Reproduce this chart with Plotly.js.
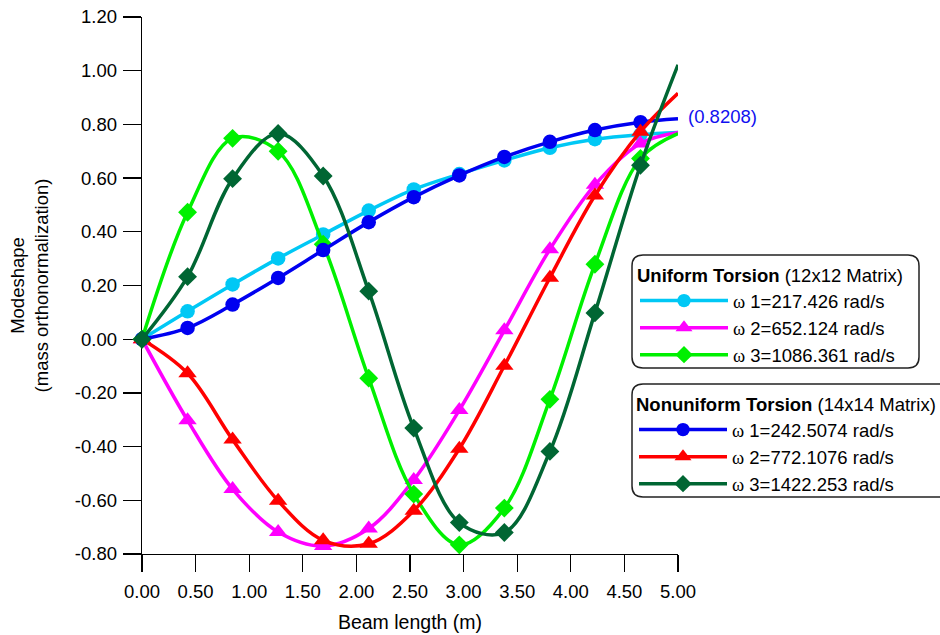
<!DOCTYPE html>
<html>
<head>
<meta charset="utf-8">
<script src="https://cdn.plot.ly/plotly-3.0.1.min.js"></script>
<style>html,body{margin:0;padding:0;background:#fff;}</style>
</head>
<body>
<div id="chart" style="width:940px;height:635px;"></div>
<script>
// ---- data ----
const beamX = [0, 0.425, 0.845, 1.27, 1.69, 2.115, 2.535, 2.96, 3.38, 3.805, 4.225, 4.65, 5.0];

const uniW1 = [0, 0.104, 0.204, 0.301, 0.390, 0.479, 0.558, 0.615, 0.666, 0.713, 0.745, 0.762, 0.770];
const uniW2 = [0, -0.302, -0.558, -0.718, -0.770, -0.705, -0.524, -0.264, 0.033, 0.335, 0.575, 0.729, 0.770];
const uniW3 = [0, 0.473, 0.748, 0.700, 0.354, -0.145, -0.577, -0.766, -0.629, -0.224, 0.279, 0.673, 0.766];

const nonW1 = [0, 0.042, 0.129, 0.228, 0.332, 0.436, 0.529, 0.610, 0.679, 0.735, 0.779, 0.808, 0.8208];
const nonW2 = [0, -0.127, -0.374, -0.602, -0.749, -0.762, -0.639, -0.408, -0.099, 0.229, 0.535, 0.773, 0.916];
const nonW3 = [0, 0.233, 0.598, 0.766, 0.608, 0.179, -0.331, -0.683, -0.720, -0.418, 0.098, 0.648, 1.022];

const uniNames = ['1=217.426 rad/s', '2=652.124 rad/s', '3=1086.361 rad/s'];
const nonNames = ['1=242.5074 rad/s', '2=772.1076 rad/s', '3=1422.253 rad/s'];
const legendTitles = ['<b>Uniform Torsion</b> (12x12 Matrix)', '<b>Nonuniform Torsion</b> (14x14 Matrix)'];
const endLabel = '(0.8208)';

const xTickVals = [0, 0.5, 1, 1.5, 2, 2.5, 3, 3.5, 4, 4.5, 5];
const xTickText = ['0.00','0.50','1.00','1.50','2.00','2.50','3.00','3.50','4.00','4.50','5.00'];
const yTickVals = [-0.8, -0.6, -0.4, -0.2, 0, 0.2, 0.4, 0.6, 0.8, 1.0, 1.2];
const yTickText = ['-0.80','-0.60','-0.40','-0.20','0.00','0.20','0.40','0.60','0.80','1.00','1.20'];

// ---- styling ----
const FONT = 'Liberation Sans, Arial, Helvetica, sans-serif';
const FS = 18.5;
const omega = '<span style="font-family:\'Liberation Serif\', \'Times New Roman\', serif">ω</span> ';

function markerSizes(n, s) { const a = []; for (let i = 0; i < n; i++) a.push(i === n - 1 ? 0 : s); return a; }

function mk(y, name, color, symbol, size, legend) {
  return {
    x: beamX, y: y, name: omega + name, legend: legend,
    type: 'scatter', mode: 'lines+markers', cliponaxis: false,
    line: {color: color, width: 3.5, shape: 'spline', smoothing: 1},
    marker: {color: color, symbol: symbol, size: markerSizes(beamX.length, size),
             opacity: 1, line: {width: 0, color: color}}
  };
}

const traces = [
  mk(uniW1, uniNames[0], '#00C8F5', 'circle', 14.5, 'legend'),
  mk(uniW2, uniNames[1], '#FF00FF', 'triangle-up', 16, 'legend'),
  mk(uniW3, uniNames[2], '#00F000', 'diamond', 14.5, 'legend'),
  mk(nonW1, nonNames[0], '#0000F0', 'circle', 14.5, 'legend2'),
  mk(nonW2, nonNames[1], '#FF0000', 'triangle-up', 16, 'legend2'),
  mk(nonW3, nonNames[2], '#006633', 'diamond', 14.5, 'legend2')
];

// plot area in pixels
const L = 142, R = 678, T = 17, B = 554;
function px(xp) { return (xp - L) / (R - L); }
function py(yp) { return (B - yp) / (B - T); }
function roundRect(x0, y0, x1, y1, r) {
  const rx = r / (R - L), ry = r / (B - T);
  const a = px(x0), b = px(x1), top = py(y0), bot = py(y1);
  return 'M' + (a + rx) + ',' + top +
    ' L' + (b - rx) + ',' + top +
    ' Q' + b + ',' + top + ' ' + b + ',' + (top - ry) +
    ' L' + b + ',' + (bot + ry) +
    ' Q' + b + ',' + bot + ' ' + (b - rx) + ',' + bot +
    ' L' + (a + rx) + ',' + bot +
    ' Q' + a + ',' + bot + ' ' + a + ',' + (bot + ry) +
    ' L' + a + ',' + (top - ry) +
    ' Q' + a + ',' + top + ' ' + (a + rx) + ',' + top + ' Z';
}

const legendBase = {
  xanchor: 'left', yanchor: 'top',
  bgcolor: 'rgba(0,0,0,0)', borderwidth: 0,
  font: {family: FONT, size: FS, color: '#000'},
  itemwidth: 88, tracegroupgap: 0, itemclick: false
};

const layout = {
  width: 940, height: 635,
  margin: {l: L, r: 940 - R, t: T, b: 635 - B, pad: 0, autoexpand: false},
  paper_bgcolor: '#fff', plot_bgcolor: '#fff',
  font: {family: FONT, size: FS, color: '#000'},
  showlegend: true,
  xaxis: {
    range: [0, 5], tickvals: xTickVals, ticktext: xTickText, automargin: false,
    showgrid: false, zeroline: false, showline: true, linecolor: '#000', linewidth: 1.3,
    ticks: 'outside', ticklen: 17, tickwidth: 1.3, tickcolor: '#000', ticklabelstandoff: 3,
    tickfont: {family: FONT, size: FS, color: '#000'},
    title: {text: 'Beam length (m)', font: {family: FONT, size: 19.5, color: '#000'}, standoff: 14},
    layer: 'below traces', fixedrange: true
  },
  yaxis: {
    range: [-0.8, 1.2], tickvals: yTickVals, ticktext: yTickText, automargin: false,
    showgrid: false, zeroline: false, showline: true, linecolor: '#000', linewidth: 1.3,
    ticks: 'outside', ticklen: 18, tickwidth: 1.3, tickcolor: '#000', ticklabelstandoff: 2,
    tickfont: {family: FONT, size: FS, color: '#000'},
    title: {text: 'Modeshape<br>(mass orthonormalization)', font: {family: FONT, size: FS, color: '#000'}, standoff: 21},
    layer: 'below traces', fixedrange: true
  },
  legend: Object.assign({}, legendBase, {
    x: px(635), y: py(258),
    title: {text: legendTitles[0], font: {family: FONT, size: FS, color: '#000'}}
  }),
  legend2: Object.assign({}, legendBase, {
    x: px(634), y: py(387),
    title: {text: legendTitles[1], font: {family: FONT, size: FS, color: '#000'}}
  }),
  shapes: [
    {type: 'path', xref: 'paper', yref: 'paper', path: roundRect(632, 255, 919, 368, 11),
     line: {color: '#222', width: 1.5}, fillcolor: '#fff', layer: 'above'},
    {type: 'path', xref: 'paper', yref: 'paper', path: roundRect(632, 384, 960, 497, 11),
     line: {color: '#222', width: 1.5}, fillcolor: '#fff', layer: 'above'}
  ],
  annotations: [
    {x: beamX[beamX.length - 1], y: nonW1[nonW1.length - 1], xref: 'x', yref: 'y',
     text: endLabel, showarrow: false, xanchor: 'left', yanchor: 'middle', xshift: 8, yshift: 2,
     font: {family: FONT, size: FS, color: '#1010F0'}}
  ]
};

Plotly.newPlot('chart', traces, layout, {displayModeBar: false, staticPlot: true});
</script>
</body>
</html>
